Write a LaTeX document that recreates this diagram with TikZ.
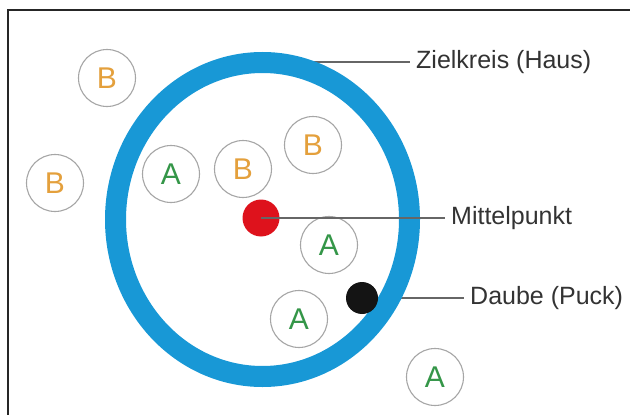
\documentclass[tikz,border=0pt]{standalone}
\usepackage{fontspec}
\setmainfont{Liberation Sans}
\usetikzlibrary{backgrounds}
\definecolor{ringblue}{RGB}{24,152,214}
\definecolor{dotred}{RGB}{222,18,28}
\definecolor{teamA}{RGB}{52,150,72}
\definecolor{teamB}{RGB}{228,160,60}

\begin{document}
\begin{tikzpicture}[x=1pt,y=-1pt]
\tikzstyle{token}=[circle,draw=black!35,line width=1.1pt,fill=white,minimum size=57pt,inner sep=0pt,font=\fontsize{30}{30}\selectfont]
\tikzstyle{tokA}=[token,text=teamA]
\tikzstyle{tokB}=[token,text=teamB]
\tikzstyle{dot}=[circle,inner sep=0pt]
\tikzstyle{lbl}=[anchor=west,inner xsep=6pt,inner ysep=0pt,text=black!80,font=\fontsize{25}{25}\selectfont]
\tikzstyle{lead}=[draw=black!60,line width=1.4pt]
\useasboundingbox (0,0) rectangle (630,415);
% frame
\draw [black!85,line width=2pt] (630,9.5) -- (8,9.5) -- (8,415);
% labels
\node [lbl] (zk) at (410,62) {Zielkreis (Haus)};
\node [lbl] (mp) at (445,218) {Mittelpunkt};
\node [lbl] (db) at (464,298) {Daube (Puck)};
\coordinate (rim) at (300,62);
% house
\draw [ringblue,line width=21pt] (262.5,219.5) ellipse [x radius=147,y radius=157];
% stones
\node [tokB] (b1) at (107,78) {B};
\node [tokB] (b2) at (55,183) {B};
\node [tokA] (a1) at (171,174) {A};
\node [tokB] (b3) at (243,169) {B};
\node [tokB] (b4) at (313,145) {B};
\node [tokA] (a2) at (329,245) {A};
\node [tokA] (a3) at (299,319) {A};
\node [tokA] (a4) at (435,377) {A};
% centre and puck
\node [dot,fill=dotred,minimum size=37pt] (mid) at (261,218) {};
\node [dot,fill=black!92,minimum size=32pt] (puck) at (362,298) {};
% leaders
\begin{scope}[on background layer]
\draw [lead] (rim) -- (zk.west);
\draw [lead] (puck) -- (db.west);
\end{scope}
\draw [lead] (mid.center) -- (mp.west);
\end{tikzpicture}
\end{document}
